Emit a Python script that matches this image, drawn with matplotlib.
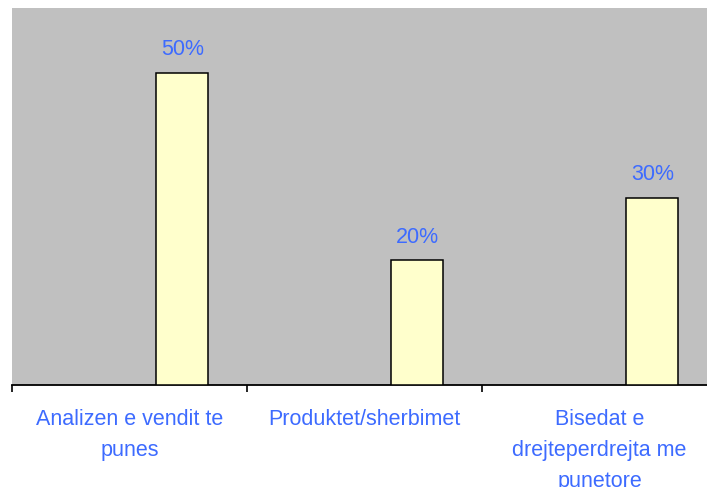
import matplotlib.pyplot as plt
import numpy as np

plt.rcParams['font.family'] = ['Liberation Sans', 'DejaVu Sans']

# data
categories = ['Analizen e vendit te\npunes',
              'Produktet/sherbimet',
              'Bisedat e\ndrejteperdrejta me\npunetore']
values = [0.50, 0.20, 0.30]
value_labels = ['50%', '20%', '30%']

text_blue = '#3D6BFF'

fig = plt.figure(figsize=(7.07, 4.87), dpi=100)
# plot area runs a little past the right edge, as in the original
ax = fig.add_axes([12 / 707, 102 / 487, 705 / 707, 377.5 / 487])
ax.set_facecolor('#C0C0C0')

x = np.arange(len(categories))
bars = ax.bar(x + 0.725, values, width=0.222, color='#FFFFCC',
              edgecolor='black', linewidth=1.1, zorder=3)

for b, lab in zip(bars, value_labels):
    ax.annotate(lab, (b.get_x() + b.get_width() / 2, b.get_height()),
                xytext=(0, 12.3), textcoords='offset points',
                ha='center', va='baseline', color=text_blue, fontsize=15.5)

ax.set_xlim(0, 3)
ax.set_ylim(0, 0.604)

# category labels under each group
for i, cat in enumerate(categories):
    ax.text(i + 0.5, -0.063, cat, transform=ax.get_xaxis_transform(),
            ha='center', va='top', color=text_blue, fontsize=15.5,
            linespacing=1.62, clip_on=False)

ax.set_xticks([0, 1, 2, 3])
ax.set_xticklabels([])
ax.tick_params(axis='x', direction='out', length=5, width=1.2, color='black')
ax.set_yticks([])

for s in ['left', 'top', 'right']:
    ax.spines[s].set_visible(False)
ax.spines['bottom'].set_linewidth(1.3)
ax.spines['bottom'].set_color('black')

plt.savefig('out.png', dpi=100)
